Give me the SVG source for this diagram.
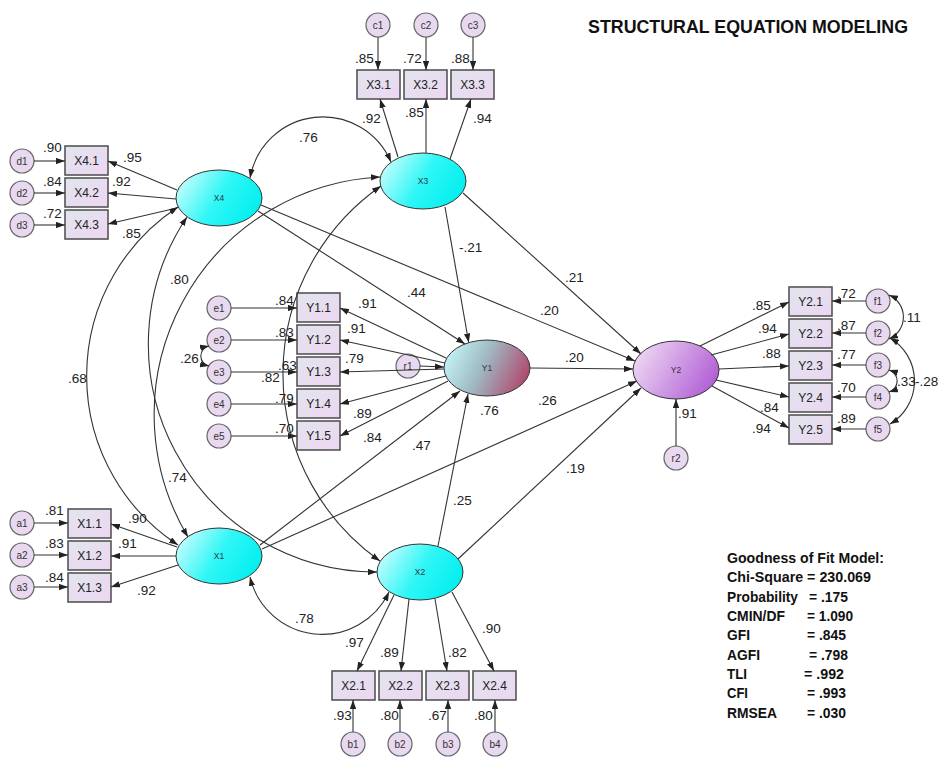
<svg xmlns="http://www.w3.org/2000/svg" width="941" height="760" viewBox="0 0 941 760">
<defs>
<linearGradient id="gCy" x1="0" y1="0.3" x2="1" y2="0.7"><stop offset="0" stop-color="#c4fdfd"/><stop offset="0.5" stop-color="#2ff6f6"/><stop offset="1" stop-color="#00eeee"/></linearGradient>
<linearGradient id="gY1" x1="0" y1="0.35" x2="1" y2="0.65"><stop offset="0" stop-color="#c2f4f4"/><stop offset="0.45" stop-color="#9fb7c2"/><stop offset="1" stop-color="#b0456a"/></linearGradient>
<linearGradient id="gY2" x1="0" y1="0.3" x2="1" y2="0.7"><stop offset="0" stop-color="#eed8f3"/><stop offset="1" stop-color="#ae5bd4"/></linearGradient>
<linearGradient id="gBox" x1="0" y1="0" x2="1" y2="1"><stop offset="0" stop-color="#e2e5ee"/><stop offset="1" stop-color="#ecd6f1"/></linearGradient>
<marker id="ah" viewBox="0 0 10 7" refX="10" refY="3.5" markerWidth="9" markerHeight="6.3" orient="auto-start-reverse" markerUnits="userSpaceOnUse"><path d="M0,0 L10,3.5 L0,7 z" fill="#222"/></marker>
</defs>
<style>
.lat{stroke:#333;stroke-width:1}
.cy{fill:url(#gCy)}
.box{fill:url(#gBox);stroke:#555;stroke-width:1.6}
.err{fill:#e8d9f0;stroke:#666;stroke-width:1.2}
.con path{fill:none;stroke:#333;stroke-width:1.1;marker-end:url(#ah)}
.con path.cov{marker-start:url(#ah)}
text{font-family:"Liberation Sans",Arial,sans-serif}
.el{font-size:8.5px;fill:#334;text-anchor:middle}
.bl{font-size:12px;fill:#222;text-anchor:middle}
.cl{font-size:10px;fill:#333;text-anchor:middle}
.lb text{font-size:13.5px;fill:#222}
.fit{font-size:15px;font-weight:bold;fill:#111}
</style>
<rect width="941" height="760" fill="#fff"/>
<text x="588" y="33" font-size="18" font-weight="bold" fill="#111" textLength="320" lengthAdjust="spacingAndGlyphs">STRUCTURAL EQUATION MODELING</text>

<!-- latent nodes -->
<g id="X4"><ellipse class="lat cy" cx="219" cy="198" rx="43" ry="28"/><text class="el" x="219" y="201">X4</text></g>
<g id="X3"><ellipse class="lat cy" cx="423" cy="181" rx="43" ry="28"/><text class="el" x="423" y="184">X3</text></g>
<g id="X1"><ellipse class="lat cy" cx="219" cy="556" rx="43" ry="28"/><text class="el" x="219" y="559">X1</text></g>
<g id="X2"><ellipse class="lat cy" cx="420" cy="572" rx="43" ry="28"/><text class="el" x="420" y="575">X2</text></g>
<g id="Y1"><ellipse class="lat" fill="url(#gY1)" cx="487" cy="368" rx="43" ry="28"/><text class="el" x="487" y="371">Y1</text></g>
<g id="Y2"><ellipse class="lat" fill="url(#gY2)" cx="676" cy="370" rx="43" ry="29"/><text class="el" x="676" y="373">Y2</text></g>

<!-- indicator boxes -->
<g id="X3.1"><rect class="box" x="357" y="70" width="43" height="29"/><text class="bl" x="378.5" y="89">X3.1</text></g>
<g id="X3.2"><rect class="box" x="404" y="70" width="43" height="29"/><text class="bl" x="425.5" y="89">X3.2</text></g>
<g id="X3.3"><rect class="box" x="451" y="70" width="43" height="29"/><text class="bl" x="472.5" y="89">X3.3</text></g>
<g id="X4.1"><rect class="box" x="65" y="146" width="43" height="29"/><text class="bl" x="86.5" y="165">X4.1</text></g>
<g id="X4.2"><rect class="box" x="65" y="178" width="43" height="29"/><text class="bl" x="86.5" y="197">X4.2</text></g>
<g id="X4.3"><rect class="box" x="65" y="210" width="43" height="29"/><text class="bl" x="86.5" y="229">X4.3</text></g>
<g id="Y1.1"><rect class="box" x="297" y="293" width="43" height="29"/><text class="bl" x="318.5" y="312">Y1.1</text></g>
<g id="Y1.2"><rect class="box" x="297" y="325" width="43" height="29"/><text class="bl" x="318.5" y="344">Y1.2</text></g>
<g id="Y1.3"><rect class="box" x="297" y="357" width="43" height="29"/><text class="bl" x="318.5" y="376">Y1.3</text></g>
<g id="Y1.4"><rect class="box" x="297" y="389" width="43" height="29"/><text class="bl" x="318.5" y="408">Y1.4</text></g>
<g id="Y1.5"><rect class="box" x="297" y="421" width="43" height="29"/><text class="bl" x="318.5" y="440">Y1.5</text></g>
<g id="Y2.1"><rect class="box" x="789" y="287" width="43" height="29"/><text class="bl" x="810.5" y="306">Y2.1</text></g>
<g id="Y2.2"><rect class="box" x="789" y="319" width="43" height="29"/><text class="bl" x="810.5" y="338">Y2.2</text></g>
<g id="Y2.3"><rect class="box" x="789" y="351" width="43" height="29"/><text class="bl" x="810.5" y="370">Y2.3</text></g>
<g id="Y2.4"><rect class="box" x="789" y="383" width="43" height="29"/><text class="bl" x="810.5" y="402">Y2.4</text></g>
<g id="Y2.5"><rect class="box" x="789" y="415" width="43" height="29"/><text class="bl" x="810.5" y="434">Y2.5</text></g>
<g id="X1.1"><rect class="box" x="68" y="509" width="43" height="29"/><text class="bl" x="89.5" y="528">X1.1</text></g>
<g id="X1.2"><rect class="box" x="68" y="541" width="43" height="29"/><text class="bl" x="89.5" y="560">X1.2</text></g>
<g id="X1.3"><rect class="box" x="68" y="573" width="43" height="29"/><text class="bl" x="89.5" y="592">X1.3</text></g>
<g id="X2.1"><rect class="box" x="332" y="671" width="43" height="29"/><text class="bl" x="353.5" y="690">X2.1</text></g>
<g id="X2.2"><rect class="box" x="379" y="671" width="43" height="29"/><text class="bl" x="400.5" y="690">X2.2</text></g>
<g id="X2.3"><rect class="box" x="426" y="671" width="43" height="29"/><text class="bl" x="447.5" y="690">X2.3</text></g>
<g id="X2.4"><rect class="box" x="473" y="671" width="43" height="29"/><text class="bl" x="494.5" y="690">X2.4</text></g>

<!-- error terms -->
<g id="c1"><circle class="err" cx="378" cy="25" r="12"/><text class="cl" x="378" y="29">c1</text></g>
<g id="c2"><circle class="err" cx="426" cy="25" r="12"/><text class="cl" x="426" y="29">c2</text></g>
<g id="c3"><circle class="err" cx="473" cy="25" r="12"/><text class="cl" x="473" y="29">c3</text></g>
<g id="d1"><circle class="err" cx="22" cy="161" r="12"/><text class="cl" x="22" y="165">d1</text></g>
<g id="d2"><circle class="err" cx="22" cy="193" r="12"/><text class="cl" x="22" y="197">d2</text></g>
<g id="d3"><circle class="err" cx="22" cy="225" r="12"/><text class="cl" x="22" y="229">d3</text></g>
<g id="e1"><circle class="err" cx="219" cy="308" r="12"/><text class="cl" x="219" y="312">e1</text></g>
<g id="e2"><circle class="err" cx="219" cy="340" r="12"/><text class="cl" x="219" y="344">e2</text></g>
<g id="e3"><circle class="err" cx="219" cy="372" r="12"/><text class="cl" x="219" y="376">e3</text></g>
<g id="e4"><circle class="err" cx="219" cy="404" r="12"/><text class="cl" x="219" y="408">e4</text></g>
<g id="e5"><circle class="err" cx="219" cy="436" r="12"/><text class="cl" x="219" y="440">e5</text></g>
<g id="f1"><circle class="err" cx="878" cy="301" r="12"/><text class="cl" x="878" y="305">f1</text></g>
<g id="f2"><circle class="err" cx="878" cy="333" r="12"/><text class="cl" x="878" y="337">f2</text></g>
<g id="f3"><circle class="err" cx="878" cy="365" r="12"/><text class="cl" x="878" y="369">f3</text></g>
<g id="f4"><circle class="err" cx="878" cy="397" r="12"/><text class="cl" x="878" y="401">f4</text></g>
<g id="f5"><circle class="err" cx="878" cy="429" r="12"/><text class="cl" x="878" y="433">f5</text></g>
<g id="a1"><circle class="err" cx="22" cy="523" r="12"/><text class="cl" x="22" y="527">a1</text></g>
<g id="a2"><circle class="err" cx="22" cy="555" r="12"/><text class="cl" x="22" y="559">a2</text></g>
<g id="a3"><circle class="err" cx="22" cy="587" r="12"/><text class="cl" x="22" y="591">a3</text></g>
<g id="b1"><circle class="err" cx="353" cy="744" r="12"/><text class="cl" x="353" y="748">b1</text></g>
<g id="b2"><circle class="err" cx="400" cy="744" r="12"/><text class="cl" x="400" y="748">b2</text></g>
<g id="b3"><circle class="err" cx="448" cy="744" r="12"/><text class="cl" x="448" y="748">b3</text></g>
<g id="b4"><circle class="err" cx="495" cy="744" r="12"/><text class="cl" x="495" y="748">b4</text></g>
<g id="r1"><circle class="err" cx="408" cy="366" r="12"/><text class="cl" x="408" y="370">r1</text></g>
<g id="r2"><circle class="err" cx="676" cy="458" r="12"/><text class="cl" x="676" y="462">r2</text></g>

<!-- connectors -->
<g id="connectors" class="con">
<path d="M378,37 L378,70"/><path d="M426,37 L426,70"/><path d="M473,37 L473,70"/>
<path d="M34,161 L65,161"/><path d="M34,193 L65,193"/><path d="M34,225 L65,225"/>
<path d="M231,308 L297,308"/><path d="M231,340 L297,340"/><path d="M231,372 L297,372"/><path d="M231,404 L297,404"/><path d="M231,436 L297,436"/>
<path d="M866,301 L832,301"/><path d="M866,333 L832,333"/><path d="M866,365 L832,365"/><path d="M866,397 L832,397"/><path d="M866,429 L832,429"/>
<path d="M34,523 L68,523"/><path d="M34,555 L68,555"/><path d="M34,587 L68,587"/>
<path d="M353,732 L353,700"/><path d="M400,732 L400,700"/><path d="M448,732 L448,700"/><path d="M495,732 L495,700"/>
<path d="M420,366 L444,367"/><path d="M676,446 L676,399"/>
<path d="M398,157 L380,99"/><path d="M426,153 L426,99"/><path d="M450,159 L471,99"/>
<path d="M177,190 L108,161"/><path d="M176,199 L108,193"/><path d="M177,208 L108,224"/>
<path d="M446,358 L340,308"/><path d="M445,363 L340,340"/><path d="M444,369 L340,372"/><path d="M446,376 L340,404"/><path d="M448,381 L340,436"/>
<path d="M700,346 L789,302"/><path d="M711,355 L789,334"/><path d="M719,369 L789,366"/><path d="M716,380 L789,397"/><path d="M712,386 L789,428"/>
<path d="M177,547 L111,524"/><path d="M176,556 L111,556"/><path d="M178,565 L111,587"/>
<path d="M394,595 L357,671"/><path d="M409,599 L401,671"/><path d="M435,599 L447,671"/><path d="M452,592 L494,671"/>
<path d="M445,207 L468.7,342.5"/>
<path d="M463,193 L641,354"/>
<path d="M258,211 L465,344"/>
<path d="M261,205 L635,361"/>
<path d="M530,368 L633,369"/>
<path d="M260,545 L460,391"/>
<path d="M262,549 L637,381"/>
<path d="M438,546 L468,394"/>
<path d="M458,559 L641,388"/>
<path class="cov" d="M250,178 A74,74 0 0 1 391,162"/>
<path class="cov" d="M250,577 A74,74 0 0 0 389,592"/>
<path class="cov" d="M178,207 A202,202 0 0 0 178,545"/>
<path class="cov" d="M380,177 A238,238 0 0 0 188,537"/>
<path class="cov" d="M187,217 A228,228 0 0 0 377,572"/>
<path class="cov" d="M381,186 A229,229 0 0 0 380,561"/>
<path class="cov" d="M209,346 A10.2,10.2 0 0 0 209,366"/>
<path class="cov" d="M889,295 A24,24 0 0 1 889,339"/>
<path class="cov" d="M889,370 A11.5,11.5 0 0 1 889,392"/>
<path class="cov" d="M890,338 A50,50 0 0 1 890,424"/>
</g>

<!-- estimates -->
<g id="labels" class="lb">
<text x="355" y="63">.85</text><text x="403" y="63">.72</text><text x="451" y="63">.88</text>
<text x="362" y="123">.92</text><text x="405" y="117">.85</text><text x="473" y="123">.94</text>
<text x="299" y="142">.76</text>
<text x="43" y="152">.90</text><text x="43" y="186">.84</text><text x="43" y="218">.72</text>
<text x="123" y="162">.95</text><text x="112" y="186">.92</text><text x="122" y="238">.85</text>
<text x="68" y="383">.68</text><text x="170" y="284">.80</text><text x="168" y="482">.74</text>
<text x="180" y="363">.26</text>
<text x="275" y="305">.84</text><text x="275" y="337">.83</text><text x="278" y="370">.63</text><text x="261" y="382">.82</text><text x="275" y="403">.79</text><text x="275" y="433">.70</text>
<text x="358" y="308">.91</text><text x="347" y="333">.91</text><text x="345" y="363">.79</text><text x="353" y="418">.89</text><text x="363" y="442">.84</text>
<text x="407" y="297">.44</text><text x="459" y="252">-.21</text><text x="565" y="282">.21</text>
<text x="540" y="315">.20</text><text x="565" y="362">.20</text><text x="480" y="415">.76</text>
<text x="538" y="405">.26</text><text x="412" y="450">.47</text><text x="453" y="505">.25</text><text x="566" y="473">.19</text>
<text x="295" y="623">.78</text>
<text x="482" y="633">.90</text><text x="345" y="647">.97</text><text x="380" y="657">.89</text><text x="448" y="657">.82</text>
<text x="333" y="720">.93</text><text x="380" y="720">.80</text><text x="428" y="720">.67</text><text x="474" y="720">.80</text>
<text x="45" y="515">.81</text><text x="45" y="548">.83</text><text x="45" y="582">.84</text>
<text x="128" y="523">.90</text><text x="118" y="548">.91</text><text x="137" y="595">.92</text>
<text x="752" y="310">.85</text><text x="758" y="333">.94</text><text x="762" y="358">.88</text><text x="760" y="412">.84</text><text x="752" y="433">.94</text>
<text x="837" y="298">.72</text><text x="837" y="330">.87</text><text x="837" y="359">.77</text><text x="837" y="392">.70</text><text x="837" y="423">.89</text>
<text x="678" y="418">.91</text>
<text x="903" y="322">.11</text><text x="897" y="386">.33</text><text x="915" y="386">-.28</text>
</g>

<!-- fit indices -->
<g id="fit">
<text class="fit" x="727" y="563" textLength="157" lengthAdjust="spacingAndGlyphs">Goodness of Fit Model:</text>
<text class="fit" x="727" y="582" textLength="144" lengthAdjust="spacingAndGlyphs">Chi-Square = 230.069</text>
<text class="fit" x="727" y="602" textLength="71" lengthAdjust="spacingAndGlyphs">Probability</text><text class="fit" x="809" y="602" textLength="39" lengthAdjust="spacingAndGlyphs">= .175</text>
<text class="fit" x="727" y="621" textLength="58" lengthAdjust="spacingAndGlyphs">CMIN/DF</text><text class="fit" x="807" y="621" textLength="46" lengthAdjust="spacingAndGlyphs">= 1.090</text>
<text class="fit" x="727" y="640" textLength="23" lengthAdjust="spacingAndGlyphs">GFI</text><text class="fit" x="807" y="640" textLength="39" lengthAdjust="spacingAndGlyphs">= .845</text>
<text class="fit" x="727" y="660" textLength="33" lengthAdjust="spacingAndGlyphs">AGFI</text><text class="fit" x="809" y="660" textLength="39" lengthAdjust="spacingAndGlyphs">= .798</text>
<text class="fit" x="727" y="679" textLength="20" lengthAdjust="spacingAndGlyphs">TLI</text><text class="fit" x="804" y="679" textLength="40" lengthAdjust="spacingAndGlyphs">= .992</text>
<text class="fit" x="727" y="698" textLength="21" lengthAdjust="spacingAndGlyphs">CFI</text><text class="fit" x="807" y="698" textLength="39" lengthAdjust="spacingAndGlyphs">= .993</text>
<text class="fit" x="727" y="718" textLength="50" lengthAdjust="spacingAndGlyphs">RMSEA</text><text class="fit" x="807" y="718" textLength="39" lengthAdjust="spacingAndGlyphs">= .030</text>
</g>
</svg>
